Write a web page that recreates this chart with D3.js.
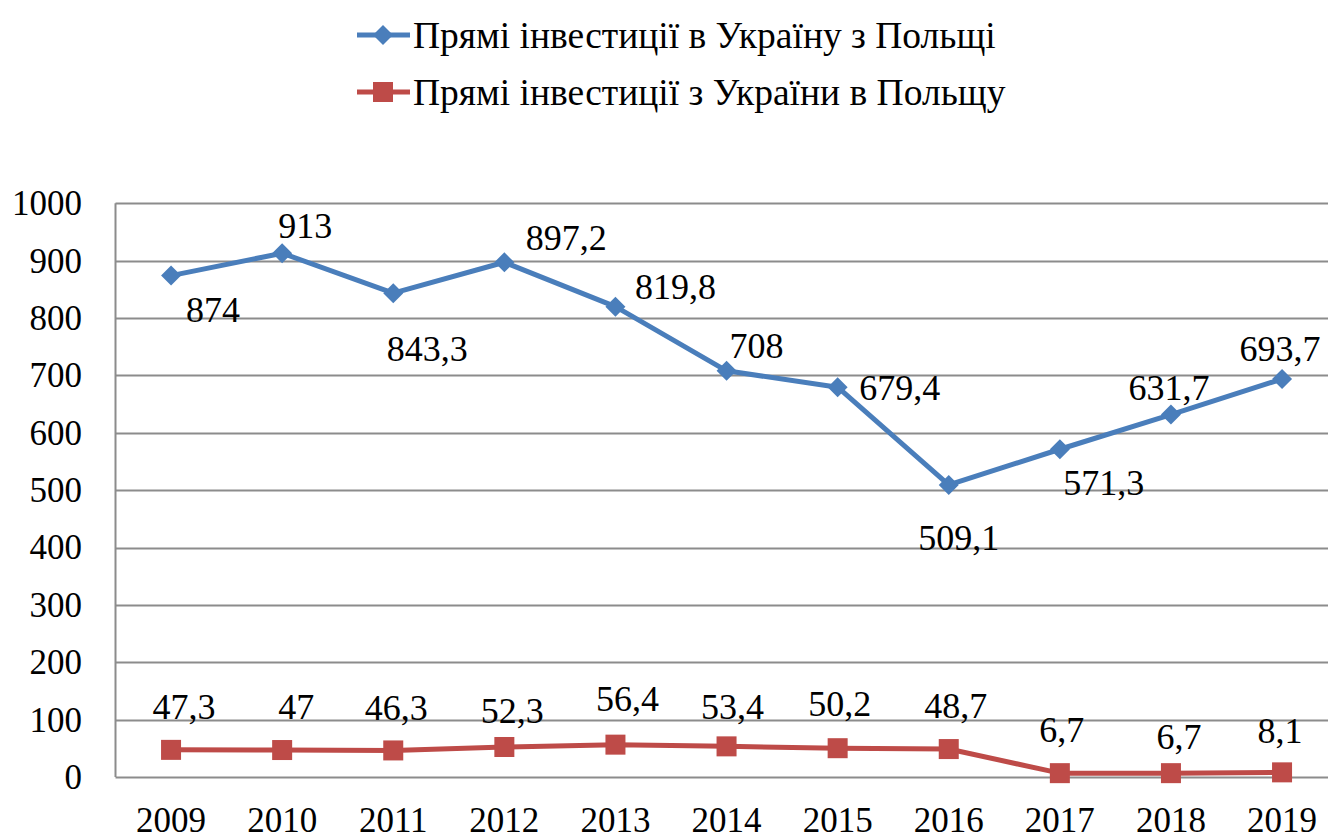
<!DOCTYPE html>
<html>
<head>
<meta charset="utf-8">
<script src="https://d3js.org/d3.v7.min.js"></script>
<style>
  body { margin: 0; background: #fff; }
</style>
</head>
<body>
<div id="chart"></div>
<script>
const years = ['2009', '2010', '2011', '2012', '2013', '2014', '2015', '2016', '2017', '2018', '2019'];
const toUkraine = [874, 913, 843.3, 897.2, 819.8, 708, 679.4, 509.1, 571.3, 631.7, 693.7];
const fromUkraine = [47.3, 47, 46.3, 52.3, 56.4, 53.4, 50.2, 48.7, 6.7, 6.7, 8.1];
const yTicks = [0, 100, 200, 300, 400, 500, 600, 700, 800, 900, 1000];
const seriesNames = ['Прямі інвестиції в Україну з Польщі', 'Прямі інвестиції з України в Польщу'];

// label placement relative to the point (like the manual Excel positions)
const blueLabelOffset = [[42, 34], [23, -27], [34, 56], [62, -25], [60, -20], [30, -25], [62, 1], [10, 53], [44, 34], [-2, -27], [-2, -30]];
const redLabelOffset = [[13, -43], [14, -43], [3, -43], [8, -36], [12, -46], [6, -40], [2, -44], [7, -43], [2, -43], [8, -36], [-2, -42]];

const FONT = "'Liberation Serif', 'Tinos', 'DejaVu Serif', serif";

const width = 1328, height = 836;
const margin = { top: 203.3, left: 115.5, bottom: 777 };
const plotRight = 115.5 + 11 * 111.1;

const svg = d3.select('#chart').append('svg')
  .attr('width', width)
  .attr('height', height)
  .attr('font-family', FONT);

const x = d3.scaleBand().domain(years).range([margin.left, plotRight]);
const y = d3.scaleLinear().domain([0, 1000]).range([margin.bottom, margin.top]);
const cx = d => x(d) + x.bandwidth() / 2;

const fmt = v => String(v).replace('.', ',');

// grid
svg.append('g').selectAll('line')
  .data(yTicks)
  .join('line')
  .attr('x1', margin.left).attr('x2', plotRight)
  .attr('y1', d => Math.round(y(d)) + 0.5).attr('y2', d => Math.round(y(d)) + 0.5)
  .attr('stroke', '#8c8c8c')
  .attr('stroke-width', 2);

svg.append('line')
  .attr('x1', margin.left).attr('x2', margin.left)
  .attr('y1', y(1000)).attr('y2', y(0))
  .attr('stroke', '#8c8c8c')
  .attr('stroke-width', 2);

// y labels
svg.append('g').selectAll('text')
  .data(yTicks)
  .join('text')
  .attr('x', 82)
  .attr('y', d => y(d))
  .attr('dy', '0.34em')
  .attr('text-anchor', 'end')
  .attr('font-size', 35)
  .text(d => d);

// x labels
svg.append('g').selectAll('text')
  .data(years)
  .join('text')
  .attr('x', d => cx(d))
  .attr('y', 832)
  .attr('text-anchor', 'middle')
  .attr('font-size', 35)
  .text(d => d);

const blue = '#4a7ebb', red = '#be4b48';
const line = d3.line().x((d, i) => cx(years[i])).y(d => y(d));

svg.append('path').datum(toUkraine)
  .attr('d', line).attr('fill', 'none')
  .attr('stroke', blue).attr('stroke-width', 5).attr('stroke-linejoin', 'round');
svg.append('path').datum(fromUkraine)
  .attr('d', line).attr('fill', 'none')
  .attr('stroke', red).attr('stroke-width', 5).attr('stroke-linejoin', 'round');

const diamond = (px, py, r) => `M${px},${py - r}L${px + r},${py}L${px},${py + r}L${px - r},${py}Z`;

svg.append('g').selectAll('path')
  .data(toUkraine)
  .join('path')
  .attr('d', (d, i) => diamond(cx(years[i]), y(d), 10))
  .attr('fill', blue);

svg.append('g').selectAll('rect')
  .data(fromUkraine)
  .join('rect')
  .attr('x', (d, i) => cx(years[i]) - 10)
  .attr('y', d => y(d) - 10)
  .attr('width', 20).attr('height', 20)
  .attr('fill', red);

// data labels
svg.append('g').selectAll('text')
  .data(toUkraine)
  .join('text')
  .attr('x', (d, i) => cx(years[i]) + blueLabelOffset[i][0])
  .attr('y', (d, i) => y(d) + blueLabelOffset[i][1])
  .attr('dy', '0.34em')
  .attr('text-anchor', 'middle')
  .attr('font-size', 36)
  .text(fmt);

svg.append('g').selectAll('text')
  .data(fromUkraine)
  .join('text')
  .attr('x', (d, i) => cx(years[i]) + redLabelOffset[i][0])
  .attr('y', (d, i) => y(d) + redLabelOffset[i][1])
  .attr('dy', '0.34em')
  .attr('text-anchor', 'middle')
  .attr('font-size', 36)
  .text(fmt);

// legend
const legend = svg.append('g');
const legendRows = [35, 92];
seriesNames.forEach((name, i) => {
  const ly = legendRows[i];
  const col = i === 0 ? blue : red;
  legend.append('line')
    .attr('x1', 357).attr('x2', 410).attr('y1', ly).attr('y2', ly)
    .attr('stroke', col).attr('stroke-width', 5);
  if (i === 0) {
    legend.append('path').attr('d', diamond(383, ly, 10)).attr('fill', col);
  } else {
    legend.append('rect').attr('x', 373).attr('y', ly - 10).attr('width', 20).attr('height', 20).attr('fill', col);
  }
  legend.append('text')
    .attr('x', 413)
    .attr('y', ly)
    .attr('dy', '0.34em')
    .attr('font-size', 37.5)
    .text(name);
});
</script>
</body>
</html>
